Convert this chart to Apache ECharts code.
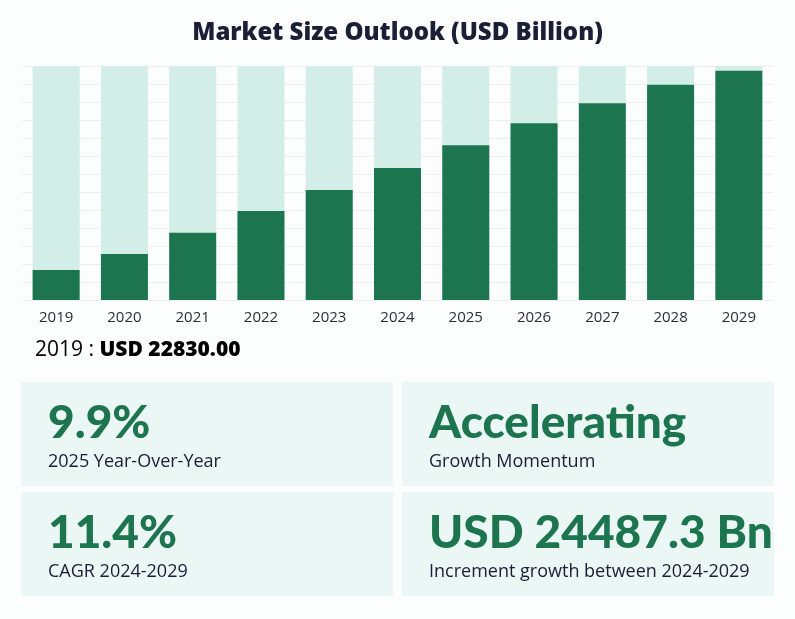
<!DOCTYPE html>
<html>
<head>
<meta charset="utf-8">
<script src="https://cdn.jsdelivr.net/npm/echarts@6/dist/echarts.min.js"></script>
<style>
html,body{margin:0;padding:0;background:#fcfdfd;}
#main{width:795px;height:619px;}
</style>
</head>
<body>
<div id="main"></div>
<script>
// categories and market size values
var years = ['2019','2020','2021','2022','2023','2024','2025','2026','2027','2028','2029'];
var marketSize = [22830, 35000, 51200, 67700, 83700, 100400, 117700, 134500, 149700, 163800, 174500];
var axisMax = 178100;
var axisStep = 13700;

// kpi card texts
var kpiBig = ['9.9%', 'Accelerating', '11.4%', 'USD 24487.3 Bn'];
var kpiSmall = ['2025 Year-Over-Year', 'Growth Momentum', 'CAGR 2024-2029', 'Increment growth between 2024-2029'];

var dark = '#1d7550';
var ink = '#1a1f36';
var bigFont = 'Lato';
var font = '"Open Sans"';

var cardPos = [[21,382],[402,382],[21,492],[402,492]];
var graphics = [];
for (var i = 0; i < 4; i++) {
    var x = cardPos[i][0], y = cardPos[i][1];
    graphics.push({
        type:'rect', left:x, top:y, shape:{width:372, height:104},
        style:{fill:'#ebf7f4'}, silent:true
    });
    graphics.push({
        type:'text', x:x+27, y:y+41,
        style:{text:kpiBig[i], fill:dark, font:'900 46px ' + bigFont, textVerticalAlign:'middle'}
    });
    graphics.push({
        type:'text', x:x+27, y:y+80,
        style:{text:kpiSmall[i], fill:ink, font:'18px ' + font, textVerticalAlign:'middle'}
    });
}
graphics.push({
    type:'text', left:35, top:340,
    style:{
        text:'{a|' + years[0] + ' : }{b|USD ' + marketSize[0].toFixed(2) + '}',
        rich:{
            a:{fontFamily:font, fontSize:21, color:ink},
            b:{fontFamily:font, fontSize:21, fontWeight:800, color:ink}
        }
    }
});

var chart = echarts.init(document.getElementById('main'));
var option = {
    backgroundColor:'#fcfdfd',
    title:{
        text:'Market Size Outlook (USD Billion)',
        left:'center',
        top:16,
        textStyle:{fontFamily:font, fontSize:24, fontWeight:800, color:ink}
    },
    grid:{left:22, right:22, top:66, bottom:319},
    xAxis:{
        type:'category',
        data:years,
        axisLine:{show:false},
        axisTick:{show:false},
        axisLabel:{color:'#2a2d3a', fontFamily:font, fontSize:15, margin:10}
    },
    yAxis:{
        type:'value',
        min:0,
        max:axisMax,
        interval:axisStep,
        axisLabel:{show:false},
        axisLine:{show:false},
        axisTick:{show:false},
        splitLine:{lineStyle:{color:'#eceef2', width:1}}
    },
    series:[{
        type:'bar',
        data:marketSize,
        barWidth:47,
        showBackground:true,
        backgroundStyle:{color:'#d3eee6'},
        itemStyle:{color:dark},
        animation:false
    }],
    graphic:graphics
};
chart.setOption(option);
</script>
</body>
</html>
